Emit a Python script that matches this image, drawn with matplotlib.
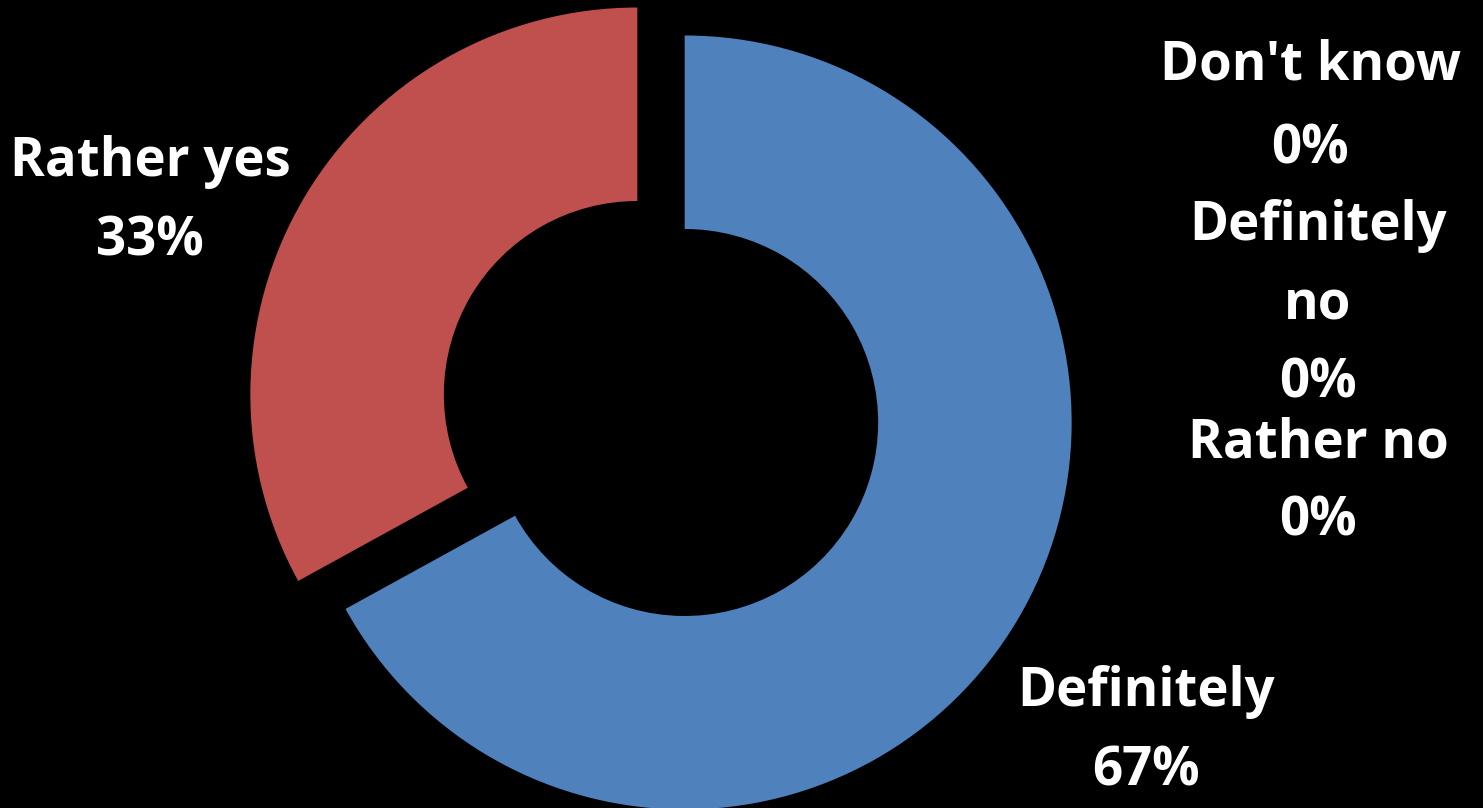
import matplotlib
matplotlib.use("Agg")
import matplotlib.pyplot as plt

categories = ["Definitely", "Rather yes", "Rather no", "Definitely no", "Don't know"]
values = [67, 33, 0, 0, 0]
colors = ["#4F81BD", "#C0504D", "#9BBB59", "#8064A2", "#4BACC6"]

W, H = 1483, 808
R = 387
explode = [0.071 * R, 0.071 * R, 0, 0, 0]

fig = plt.figure(figsize=(W / 100, H / 100), dpi=100, facecolor="black")
ax = fig.add_axes([0, 0, 1, 1])
ax.set_facecolor("black")

cx, cy = 661, H - 408.5
ax.pie(values, colors=colors, startangle=90, counterclock=False,
       radius=R, center=(cx, cy), explode=explode, frame=True,
       wedgeprops=dict(width=R * 0.5, linewidth=0))
ax.set_xlim(0, W)
ax.set_ylim(0, H)
ax.set_aspect("equal")
ax.axis("off")

# label text (name, percent lines) and positions (pixels from top)
label_lines = {
    "Rather yes": (["Rather yes", "33%"], 150, [158, 237]),
    "Don't know": (["Don't know", "0%"], 1310, [62, 145]),
    "Definitely no": (["Definitely", "no", "0%"], 1318, [222, 302, 380]),
    "Rather no": (["Rather no", "0%"], 1318, [440, 517]),
    "Definitely": (["Definitely", "67%"], 1146, [688, 767]),
}
for key, (lines, x, ys) in label_lines.items():
    for t, y in zip(lines, ys):
        ax.text(x, H - y - 4, t, color="white", fontsize=38, fontweight="bold",
                family="Open Sans", ha="center", va="center")

fig.savefig("out.png", dpi=100, facecolor="black")
